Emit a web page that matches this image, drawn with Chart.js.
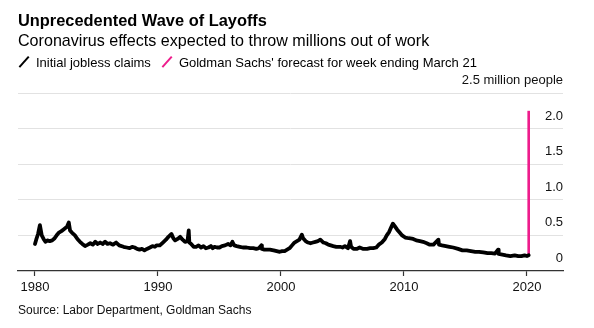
<!DOCTYPE html>
<html>
<head>
<meta charset="utf-8">
<script src="https://cdn.jsdelivr.net/npm/chart.js@4/dist/chart.umd.min.js"></script>
<style>
  body { margin: 0; background: #fff; font-family: "Liberation Sans", Arial, sans-serif; color: #000; }
  #wrap { position: relative; width: 594px; height: 328px; }
  #chart { position: absolute; left: 0; top: 0; }
  .txt { position: absolute; left: 18px; white-space: nowrap; line-height: 1; }
  #title { top: 11.6px; font-size: 16.4px; font-weight: bold; }
  #subtitle { top: 31.5px; font-size: 16.1px; }
  #legend { top: 55.6px; font-size: 13px; }
  #legend .key { display: inline-block; position: relative; width: 12px; height: 12px; vertical-align: -1px; margin-right: 6px; }
  #legend .key::after { content: ""; position: absolute; left: 5px; top: -1px; width: 2.4px; height: 14px; background: var(--c); transform: rotate(42deg); }
  #legend .item { margin-right: 10px; }
  #source { top: 304px; font-size: 12px; color: #111; }
</style>
</head>
<body>
<div id="wrap">
  <canvas id="chart" width="594" height="328"></canvas>
  <div class="txt" id="title">Unprecedented Wave of Layoffs</div>
  <div class="txt" id="subtitle">Coronavirus effects expected to throw millions out of work</div>
  <div class="txt" id="legend"><span class="item"><span class="key" style="--c:#000"></span>Initial jobless claims</span><span class="item"><span class="key" style="--c:#ee1c8c"></span>Goldman Sachs' forecast for week ending March 21</span></div>
  <div class="txt" id="source">Source: Labor Department, Goldman Sachs</div>
</div>
<script>
// initial jobless claims, millions
const claimYears = [
  1980.0, 1980.1, 1980.25, 1980.4, 1980.55, 1980.7, 1980.85, 1981.0, 1981.2, 1981.4,
  1981.6, 1981.8, 1981.95, 1982.15, 1982.3, 1982.45, 1982.6, 1982.75, 1982.85, 1983.0,
  1983.25, 1983.45, 1983.66, 1983.85, 1984.07, 1984.3, 1984.5, 1984.7, 1984.9, 1985.1,
  1985.3, 1985.5, 1985.7, 1985.9, 1986.1, 1986.35, 1986.6, 1986.85, 1987.2, 1987.45,
  1987.7, 1987.9, 1988.1, 1988.3, 1988.5, 1988.7, 1988.9, 1989.1, 1989.35, 1989.55,
  1989.75, 1989.9, 1990.15, 1990.4, 1990.65, 1990.85, 1991.1, 1991.25, 1991.4, 1991.6,
  1991.8, 1992.0, 1992.2, 1992.4, 1992.5, 1992.55, 1992.7, 1992.9, 1993.1, 1993.3,
  1993.5, 1993.7, 1993.9, 1994.1, 1994.3, 1994.45, 1994.6, 1994.8, 1995.0, 1995.2,
  1995.45, 1995.7, 1995.9, 1996.05, 1996.2, 1996.4, 1996.65, 1996.9, 1997.2, 1997.5,
  1997.75, 1998.0, 1998.2, 1998.4, 1998.45, 1998.65, 1998.85, 1999.1, 1999.4, 1999.65,
  1999.9, 2000.1, 2000.3, 2000.5, 2000.7, 2000.9, 2001.1, 2001.3, 2001.5, 2001.7,
  2001.8, 2002.0, 2002.2, 2002.4, 2002.6, 2002.8, 2003.0, 2003.2, 2003.45, 2003.65,
  2003.85, 2004.05, 2004.25, 2004.5, 2004.8, 2005.0, 2005.2, 2005.45, 2005.62, 2005.7,
  2005.9, 2006.15, 2006.4, 2006.7, 2007.0, 2007.25, 2007.5, 2007.75, 2007.95, 2008.2,
  2008.45, 2008.6, 2008.8, 2008.95, 2009.1, 2009.25, 2009.45, 2009.65, 2009.85, 2010.1,
  2010.4, 2010.75, 2011.0, 2011.3, 2011.55, 2011.85, 2012.1, 2012.4, 2012.8, 2012.85,
  2013.1, 2013.4, 2013.7, 2014.0, 2014.4, 2014.75, 2015.1, 2015.45, 2015.8, 2016.1,
  2016.45, 2016.8, 2017.1, 2017.4, 2017.65, 2017.7, 2018.0, 2018.3, 2018.65, 2019.0,
  2019.3, 2019.55, 2019.8, 2020.0, 2020.14
];
const claimValues = [
  0.38, 0.44, 0.52, 0.645, 0.50, 0.45, 0.41, 0.43, 0.42, 0.43,
  0.46, 0.51, 0.54, 0.56, 0.58, 0.60, 0.62, 0.68, 0.57, 0.54,
  0.50, 0.45, 0.41, 0.38, 0.35, 0.37, 0.39, 0.37, 0.41, 0.38,
  0.40, 0.38, 0.41, 0.38, 0.39, 0.37, 0.40, 0.36, 0.34, 0.33,
  0.32, 0.34, 0.33, 0.31, 0.30, 0.31, 0.29, 0.31, 0.33, 0.35,
  0.34, 0.36, 0.36, 0.40, 0.44, 0.48, 0.52, 0.46, 0.43, 0.45,
  0.48, 0.44, 0.41, 0.42, 0.57, 0.40, 0.38, 0.34, 0.34, 0.36,
  0.33, 0.35, 0.32, 0.33, 0.35, 0.32, 0.34, 0.33, 0.33, 0.35,
  0.36, 0.38, 0.36, 0.41, 0.36, 0.35, 0.34, 0.33, 0.33, 0.32,
  0.32, 0.31, 0.32, 0.36, 0.31, 0.30, 0.30, 0.30, 0.29, 0.28,
  0.27, 0.28, 0.28, 0.30, 0.32, 0.36, 0.40, 0.42, 0.44, 0.51,
  0.46, 0.42, 0.40, 0.39, 0.40, 0.41, 0.42, 0.44, 0.40, 0.39,
  0.37, 0.36, 0.35, 0.34, 0.34, 0.33, 0.35, 0.32, 0.42, 0.34,
  0.31, 0.31, 0.33, 0.31, 0.31, 0.32, 0.32, 0.33, 0.37, 0.40,
  0.45, 0.50, 0.55, 0.61, 0.665, 0.63, 0.58, 0.54, 0.50, 0.47,
  0.46, 0.45, 0.43, 0.42, 0.41, 0.39, 0.37, 0.37, 0.44, 0.37,
  0.36, 0.35, 0.34, 0.33, 0.31, 0.29, 0.29, 0.28, 0.27, 0.27,
  0.26, 0.25, 0.25, 0.245, 0.30, 0.24, 0.23, 0.22, 0.21, 0.22,
  0.21, 0.21, 0.22, 0.21, 0.22
];
// Goldman Sachs forecast: from last reading up to 2.25 million
const forecastYears = [2020.14, 2020.14];
const forecastValues = [0.22, 2.25];

const xTicks = [1980, 1990, 2000, 2010, 2020];
const yTicks = [0, 0.5, 1, 1.5, 2, 2.5];
const yUnit = 'million people';

const font = { family: '"Liberation Sans", Arial, sans-serif', size: 13 };

new Chart(document.getElementById('chart').getContext('2d'), {
    type: 'line',
    data: {
        datasets: [
            {
                label: 'Initial jobless claims',
                data: claimYears.map((x, i) => ({ x: x, y: claimValues[i] })),
                borderColor: '#000',
                borderWidth: 3.8,
                borderJoinStyle: 'round',
                borderCapStyle: 'round',
                pointRadius: 0,
                tension: 0
            },
            {
                label: "Goldman Sachs' forecast for week ending March 21",
                data: forecastYears.map((x, i) => ({ x: x, y: forecastValues[i] })),
                borderColor: '#ee1c8c',
                borderWidth: 2.6,
                pointRadius: 0
            }
        ]
    },
    options: {
        responsive: false,
        animation: false,
        layout: { padding: { top: 93, left: 18, right: 31, bottom: 27 } },
        plugins: { legend: { display: false }, tooltip: { enabled: false } },
        scales: {
            x: {
                type: 'linear',
                min: 1978.62,
                max: 2022.93,
                afterBuildTicks: scale => { scale.ticks = xTicks.map(v => ({ value: v })); },
                afterFit: scale => { scale.height = 30; },
                grid: { drawOnChartArea: false, drawTicks: true, tickLength: 5, tickColor: '#333', tickWidth: 1.2 },
                border: { color: '#333', width: 1.3 },
                ticks: { color: '#111', font: font, padding: 4, maxRotation: 0, callback: v => String(v) }
            },
            y: {
                position: 'right',
                min: 0,
                max: 2.5,
                afterBuildTicks: scale => { scale.ticks = yTicks.map(v => ({ value: v })); },
                afterFit: scale => { scale.width = 0; },
                grid: { color: ctx => ctx.tick && ctx.tick.value === 0 ? 'rgba(0,0,0,0)' : '#e2e2e2', lineWidth: 1, drawTicks: false },
                border: { display: false },
                ticks: {
                    mirror: true,
                    padding: 0,
                    labelOffset: -12.5,
                    color: '#111',
                    font: font,
                    callback: v => v === 2.5 ? v + ' ' + yUnit : (v === 0 ? '0' : v.toFixed(1))
                }
            }
        }
    }
});
</script>
</body>
</html>
